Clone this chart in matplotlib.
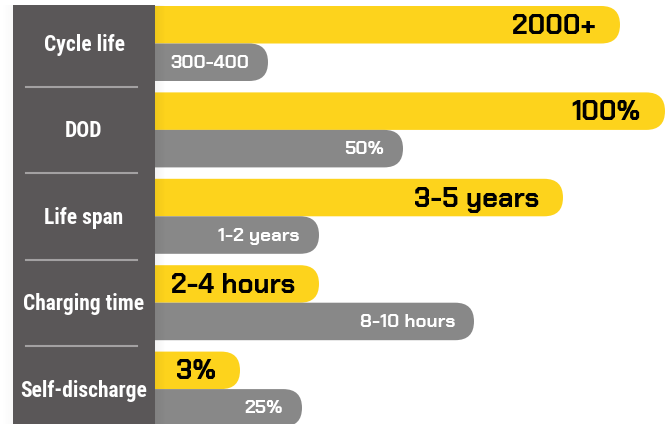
import matplotlib.pyplot as plt
from matplotlib.patches import FancyBboxPatch, Rectangle

# lithium (yellow) vs lead-acid (gray) comparison
categories = ['Cycle life', 'DOD', 'Life span', 'Charging time', 'Self-discharge']
yellow_labels = ['2000+', '100%', '3-5 years', '2-4 hours', '3%']
gray_labels = ['300-400', '50%', '1-2 years', '8-10 hours', '25%']
# bar lengths as drawn (pixel-ish units, measured from the panel edge)
yellow_len = [465, 510, 408, 164, 85]
gray_len = [113, 248, 164, 319, 147]

YELLOW = '#fdd31c'
GRAY = '#888888'
PANEL = '#5a5758'
VALUE_FONT = ['Chakra Petch', 'DejaVu Sans']
LABEL_FONT = ['Roboto Condensed', 'Liberation Sans Narrow', 'DejaVu Sans']

W, H = 670, 424
fig = plt.figure(figsize=(W / 100, H / 100), dpi=100)
ax = fig.add_axes([0, 0, 1, 1])
ax.set_xlim(0, W)
ax.set_ylim(H, 0)
ax.axis('off')

x0 = 155
bar_h = 37.5
step = 86.4
first = 43.5


def rounded_bar(y_center, length, color):
    # start well behind the panel so only the right end shows rounded
    left = x0 - 60
    p = FancyBboxPatch((left, y_center - bar_h / 2), x0 + length - left, bar_h,
                       boxstyle=f'round,pad=0,rounding_size={bar_h / 2}',
                       fc=color, ec='none', zorder=2)
    ax.add_patch(p)


for i, cat in enumerate(categories):
    c = first + step * i
    yy = c - bar_h / 2
    yg = c + bar_h / 2
    rounded_bar(yy, yellow_len[i], YELLOW)
    rounded_bar(yg, gray_len[i], GRAY)
    ax.text(x0 + yellow_len[i] - 24, yy + 2, yellow_labels[i], ha='right', va='center',
            fontsize=19.5, fontweight='bold', color='black', family=VALUE_FONT, zorder=5)
    ax.text(x0 + gray_len[i] - 19, yg + 1, gray_labels[i], ha='right', va='center',
            fontsize=13.5, fontweight='bold', color='white', family=VALUE_FONT, zorder=5)

# soft shadow around the panel
for k in range(10):
    a = 0.05 * (1 - k / 10)
    ax.add_patch(Rectangle((x0 + k, 5), 1, H, fc='black', alpha=a, ec='none', zorder=3))
    ax.add_patch(Rectangle((13 - k - 1, 5), 1, H, fc='black', alpha=a * 0.5, ec='none', zorder=3))

# left label panel
ax.add_patch(Rectangle((13, 5), x0 - 13, H, fc=PANEL, ec='none', zorder=4))

for i, cat in enumerate(categories):
    c = first + step * i
    ax.text(84, c + 1.5, cat, ha='center', va='center', fontsize=15.5, fontweight='bold',
            color='white', family=LABEL_FONT, zorder=5)
    if i > 0:
        ys = c - step / 2
        ax.plot([26, 137], [ys, ys], color='#a3a1a2', lw=1.5, zorder=5)

fig.savefig('out.png', dpi=100)
